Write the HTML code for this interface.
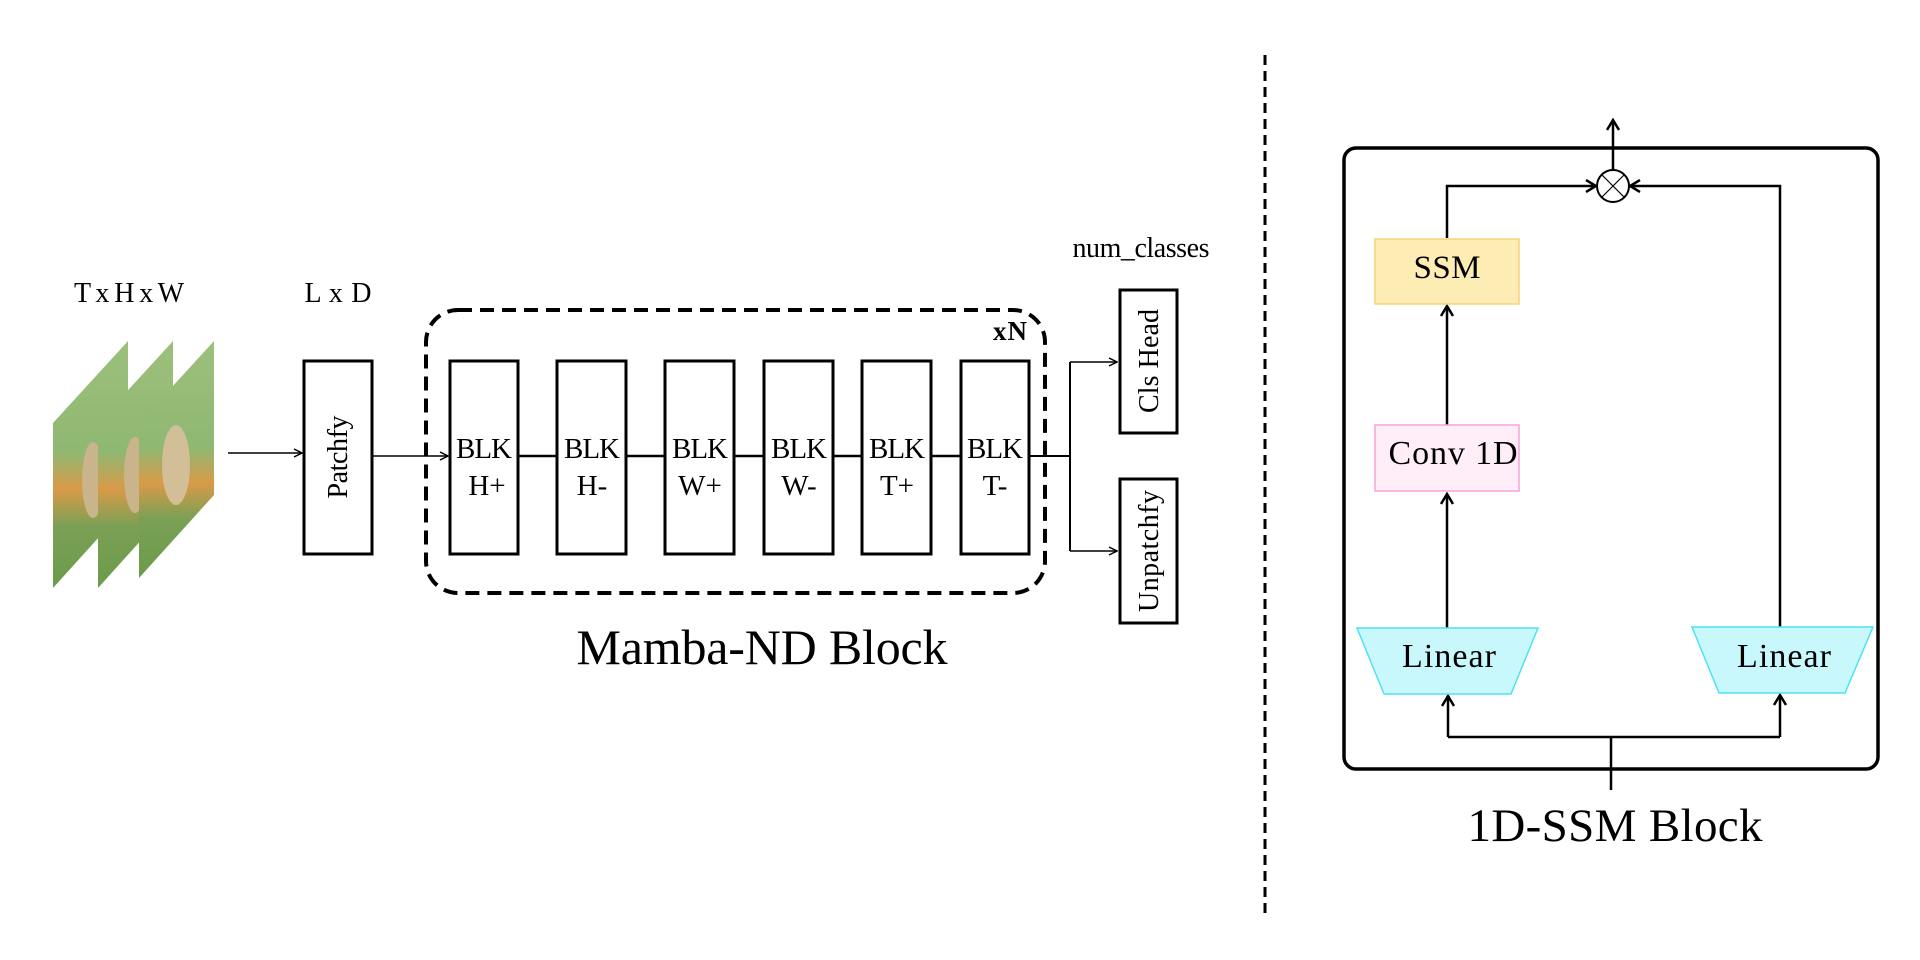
<!DOCTYPE html>
<html><head><meta charset="utf-8"><style>
html,body{margin:0;padding:0;background:#fff;}
svg{display:block;}
text{font-family:"Liberation Serif","Times New Roman",serif;fill:#000;}
</style></head><body>
<svg width="1920" height="960" viewBox="0 0 1920 960" xmlns="http://www.w3.org/2000/svg">
<defs>
<marker id="a" markerWidth="10" markerHeight="10" refX="9" refY="5" orient="auto" markerUnits="userSpaceOnUse">
<path d="M1,1 L9,5 L1,9" fill="none" stroke="#000" stroke-width="1.5"/></marker>
<marker id="b" markerWidth="14" markerHeight="14" refX="12" refY="7" orient="auto" markerUnits="userSpaceOnUse">
<path d="M2,1 L12,7 L2,13" fill="none" stroke="#000" stroke-width="2.5"/></marker>
<linearGradient id="g" x1="0" y1="0" x2="0" y2="1">
<stop offset="0" stop-color="#9cc07c"/><stop offset="0.45" stop-color="#8fb872"/><stop offset="0.6" stop-color="#d99a48"/><stop offset="0.75" stop-color="#7aa055"/><stop offset="1" stop-color="#6c9a4a"/></linearGradient>
</defs>

<text x="129" y="302" font-size="28" text-anchor="middle" textLength="110">T x H x W</text>
<text x="338" y="302" font-size="28" text-anchor="middle" textLength="67">L x D</text>

<g>
<polygon points="53,423 128,341 128,505 53,588" fill="url(#g)"/>
<ellipse cx="93" cy="480" rx="11" ry="38" fill="#c9b48c"/>
<polygon points="98,423 173,341 173,505 98,588" fill="url(#g)"/>
<ellipse cx="135" cy="475" rx="11" ry="38" fill="#c9b48c"/>
<polygon points="139,423 214,341 214,495 139,578" fill="url(#g)"/>
<ellipse cx="176" cy="465" rx="14" ry="40" fill="#d2bf98"/>
</g>

<line x1="228" y1="453" x2="302" y2="453" stroke="#000" stroke-width="1.5" marker-end="url(#a)"/>
<rect x="304" y="361" width="68" height="193" fill="#fff" stroke="#000" stroke-width="3"/>
<text transform="translate(347,457) rotate(-90)" font-size="28" text-anchor="middle" textLength="83">Patchfy</text>
<line x1="372" y1="456" x2="448" y2="456" stroke="#000" stroke-width="1.5" marker-end="url(#a)"/>

<rect x="426" y="310" width="619" height="283" rx="32" fill="none" stroke="#000" stroke-width="4" stroke-dasharray="14,8"/>
<text x="993" y="340" font-size="27" font-weight="bold" textLength="34">xN</text>

<g stroke="#000" stroke-width="2.5">
<line x1="518" y1="456" x2="557" y2="456"/>
<line x1="626" y1="456" x2="665" y2="456"/>
<line x1="734" y1="456" x2="764" y2="456"/>
<line x1="833" y1="456" x2="862" y2="456"/>
<line x1="931" y1="456" x2="961" y2="456"/>
</g>
<g fill="#fff" stroke="#000" stroke-width="3">
<rect x="450" y="361" width="68" height="193"/>
<rect x="557" y="361" width="69" height="193"/>
<rect x="665" y="361" width="69" height="193"/>
<rect x="764" y="361" width="69" height="193"/>
<rect x="862" y="361" width="69" height="193"/>
<rect x="961" y="361" width="68" height="193"/>
</g>
<g font-size="29" text-anchor="middle">
<text x="484" y="458" textLength="56">BLK</text><text x="487" y="495">H+</text>
<text x="592" y="458" textLength="56">BLK</text><text x="592" y="495">H-</text>
<text x="700" y="458" textLength="56">BLK</text><text x="700" y="495">W+</text>
<text x="799" y="458" textLength="56">BLK</text><text x="799" y="495">W-</text>
<text x="897" y="458" textLength="56">BLK</text><text x="897" y="495">T+</text>
<text x="995" y="458" textLength="56">BLK</text><text x="995" y="495">T-</text>
</g>
<text x="762" y="664" font-size="50" text-anchor="middle" textLength="371">Mamba-ND Block</text>

<g stroke="#000" stroke-width="2" fill="none">
<line x1="1029" y1="456" x2="1070" y2="456"/>
<line x1="1070" y1="362" x2="1070" y2="551"/>
<line x1="1070" y1="362" x2="1117" y2="362" stroke-width="1.5" marker-end="url(#a)"/>
<line x1="1070" y1="551" x2="1117" y2="551" stroke-width="1.5" marker-end="url(#a)"/>
</g>
<rect x="1120" y="290" width="57" height="143" fill="#fff" stroke="#000" stroke-width="3"/>
<rect x="1120" y="479" width="57" height="144" fill="#fff" stroke="#000" stroke-width="3"/>
<text transform="translate(1158,361) rotate(-90)" font-size="28" text-anchor="middle" textLength="104">Cls Head</text>
<text transform="translate(1158,551) rotate(-90)" font-size="28" text-anchor="middle" textLength="122">Unpatchfy</text>
<text x="1141" y="257" font-size="28" text-anchor="middle" textLength="137">num_classes</text>

<line x1="1265" y1="55" x2="1265" y2="918" stroke="#000" stroke-width="3" stroke-dasharray="10,6"/>

<rect x="1344" y="148" width="534" height="621" rx="12" fill="none" stroke="#000" stroke-width="3.5"/>
<g stroke="#000" stroke-width="2.5" fill="none">
<line x1="1613" y1="171" x2="1613" y2="120" marker-end="url(#b)"/>
<path d="M1447,238 L1447,186 L1596,186" marker-end="url(#b)"/>
<path d="M1780,627 L1780,186 L1630,186" marker-end="url(#b)"/>
<line x1="1447" y1="425" x2="1447" y2="306" marker-end="url(#b)"/>
<line x1="1447" y1="628" x2="1447" y2="494" marker-end="url(#b)"/>
<path d="M1611,790 L1611,737"/>
<path d="M1448,737 L1780,737"/>
<line x1="1448" y1="737" x2="1448" y2="696" marker-end="url(#b)"/>
<line x1="1780" y1="737" x2="1780" y2="695" marker-end="url(#b)"/>
</g>
<circle cx="1613" cy="186" r="16" fill="#fff" stroke="#000" stroke-width="2"/>
<line x1="1602" y1="175" x2="1624" y2="197" stroke="#000" stroke-width="1.2"/>
<line x1="1624" y1="175" x2="1602" y2="197" stroke="#000" stroke-width="1.2"/>

<rect x="1375" y="239" width="144" height="65" fill="#feecb5" stroke="#f3d47a" stroke-width="1.5"/>
<text x="1447" y="278" font-size="33" text-anchor="middle" textLength="67">SSM</text>
<rect x="1375" y="425" width="144" height="66" fill="#ffeef8" stroke="#f7a3d6" stroke-width="1.5"/>
<text x="1453" y="464" font-size="34" text-anchor="middle" textLength="129">Conv 1D</text>
<polygon points="1357,628 1538,628 1511,694 1384,694" fill="#c8f7fc" stroke="#4de3f2" stroke-width="1.5"/>
<text x="1449" y="667" font-size="34" text-anchor="middle" textLength="94">Linear</text>
<polygon points="1692,627 1873,627 1845,693 1719,693" fill="#c8f7fc" stroke="#4de3f2" stroke-width="1.5"/>
<text x="1784" y="667" font-size="34" text-anchor="middle" textLength="94">Linear</text>

<text x="1615" y="841" font-size="47" text-anchor="middle" textLength="295">1D-SSM Block</text>
</svg>
</body></html>
